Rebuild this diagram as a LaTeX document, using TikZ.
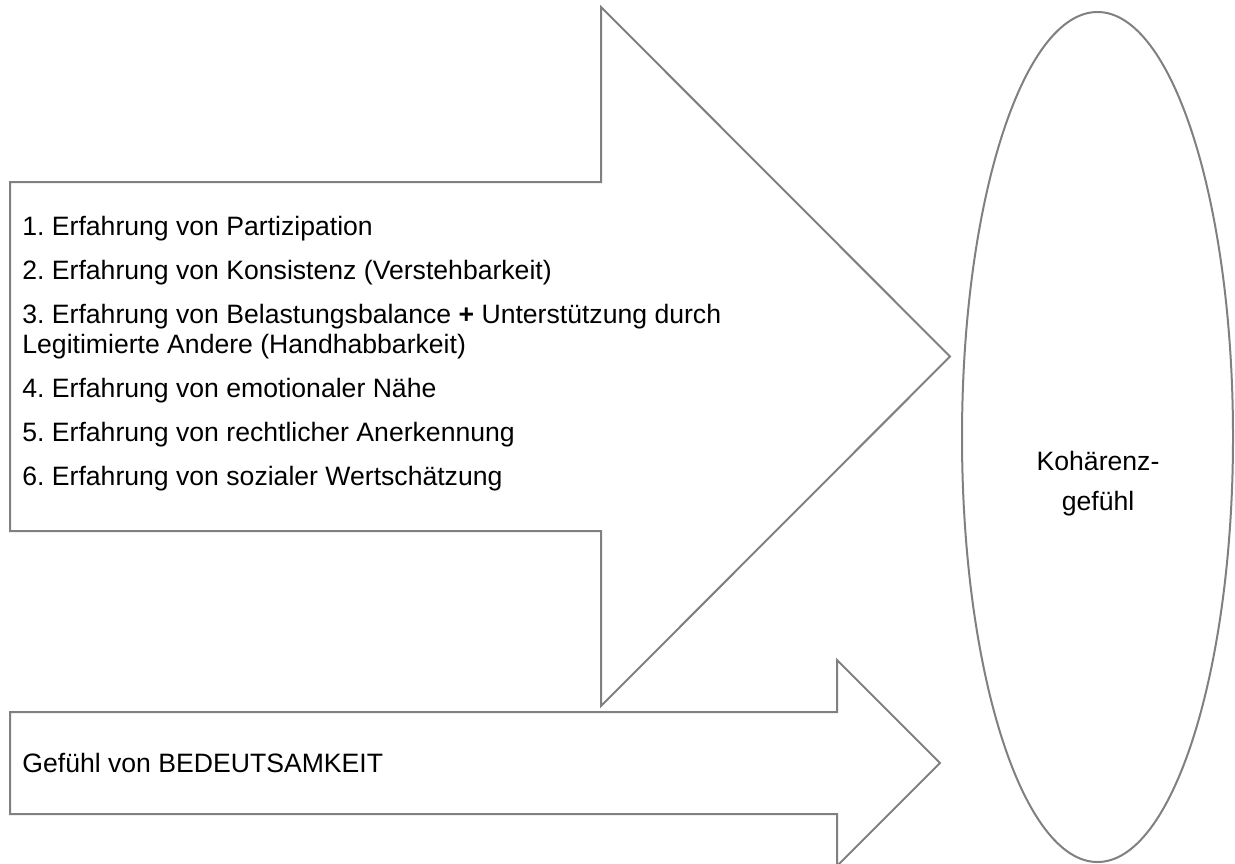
\documentclass[tikz,border=0pt]{standalone}
\usepackage{fontspec}
\setmainfont{Liberation Sans}
\usetikzlibrary{shapes.geometric}
\definecolor{outlinegray}{HTML}{808080}
\frenchspacing
\begin{document}
\begin{tikzpicture}[x=0.5pt,y=-0.5pt,
  outline/.style={draw=outlinegray, line width=1pt, line join=miter},
  txt/.style={anchor=base west, inner sep=0pt, font=\fontsize{13.3}{15}\selectfont},
  ctxt/.style={anchor=base, inner sep=0pt, font=\fontsize{13.3}{15}\selectfont}]
\useasboundingbox (0,0) rectangle (1235,863);
% big arrow
\draw[outline] (10,182) -- (601,182) -- (601,7) -- (950,356.5) -- (601,706) -- (601,531) -- (10,531) -- cycle;
% small arrow
\draw[outline] (10,712) -- (837,712) -- (837,660) -- (940,763) -- (837,866) -- (837,814) -- (10,814) -- cycle;
% ellipse
\node[outline, ellipse, minimum width=135.5pt, minimum height=425pt, inner sep=0pt] (ell) at (1097.5,437) {};
% texts
\node[txt] (l1) at (22,235) {1. Erfahrung von Partizipation};
\node[txt] (l2) at (22,279) {2. Erfahrung von Konsistenz (Verstehbarkeit)};
\node[txt] (l3) at (22,323) {3. Erfahrung von Belastungsbalance \textbf{+} Unterstützung durch};
\node[txt] (l3b) at (22,353) {Legitimierte Andere (Handhabbarkeit)};
\node[txt] (l4) at (22,397) {4. Erfahrung von emotionaler Nähe};
\node[txt] (l5) at (22,441) {5. Erfahrung von rechtlicher Anerkennung};
\node[txt] (l6) at (22,485) {6. Erfahrung von sozialer Wertschätzung};
\node[txt] (bed) at (22,772) {Gefühl von BEDEUTSAMKEIT};
\node[ctxt] (k1) at (1098,470) {Kohärenz-};
\node[ctxt] (k2) at (1098,510) {gefühl};
\end{tikzpicture}
\end{document}
